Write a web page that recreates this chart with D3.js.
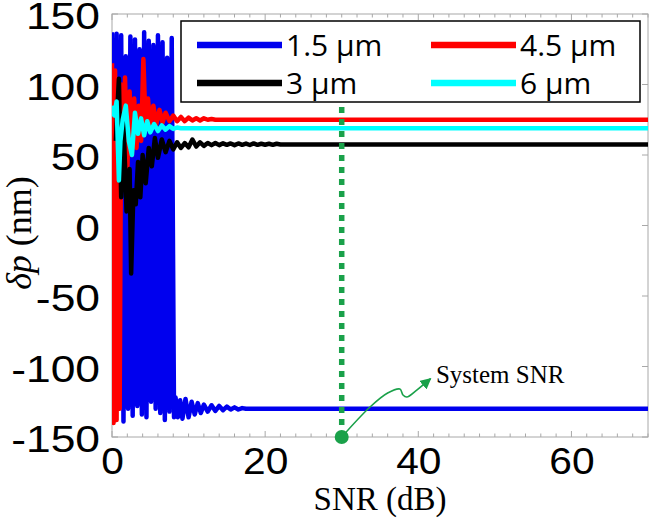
<!DOCTYPE html>
<html>
<head>
<meta charset="utf-8">
<script src="https://cdn.jsdelivr.net/npm/d3@7"></script>
<style>
  body { margin: 0; background: #fff; }
  svg { display: block; }
</style>
</head>
<body>
<svg width="650" height="520"></svg>
<script>
// 1.5 um
var snr15 = [0, 0.3, 0.6, 0.9, 1.2, 1.5, 1.8, 2.1, 2.4, 2.7, 3.0, 3.3, 3.6, 3.9, 4.2, 4.5, 4.8, 5.1, 5.4, 5.7,
    6.0, 6.3, 6.6, 6.9, 7.2, 7.5, 7.8, 8.1, 8.3, 8.6, 8.9, 9.2, 9.6, 10.0, 10.4, 10.8, 11.2, 11.6, 12.0,
    12.5, 13.0, 13.5, 14.0, 14.5, 15.0, 15.5, 16.0, 16.5, 17.0, 17.5, 70];
var dp15 = [137, -80, 136, -120, 135, -139, 120, -130, 134, -135, 132, -128, 125, -134, 137, -136, 131, -125, 128, -130,
    135, -133, 130, -138, 119, -132, 133, -136, -122, -136, -124, -137, -123, -136, -125, -134, -126, -133, -127,
    -132, -127.5, -131.5, -128, -131, -128.5, -130.5, -129, -130.5, -129.5, -130, -130];

// 3 um
var snr3 = [0.5, 0.9, 1.2, 1.5, 1.9, 2.3, 2.5, 2.8, 3.1, 3.4, 3.7, 4.0, 4.4, 4.8, 5.2, 5.6, 6.0,
    6.5, 7.0, 7.5, 8.0, 8.5, 9.0, 9.5, 10.0, 10.5, 11.0, 11.5, 12.0, 12.5, 13.0, 13.5, 14.0, 14.5, 15.0,
    15.5, 16.0, 16.5, 17.0, 17.5, 18.0, 18.5, 19.0, 19.5, 20.0, 20.5, 21.0, 21.5, 22.0, 70];
var dp3 = [60, 104, 20, 75, 10, 40, -34, 25, 15, 45, 20, 50, 30, 55, 42, 62, 48,
    61, 52, 60, 54, 59, 55, 58.5, 55.5, 61, 56, 59, 56.5, 58.5, 57, 58.5, 57, 58.3, 57.2,
    58.2, 57, 58.2, 57.2, 58.1, 57.1, 58.2, 57.2, 58, 57.3, 58, 57.2, 58, 57.5, 57.5];

// 4.5 um
var snr45 = [0, 0.2, 0.4, 0.6, 0.8, 1.0, 1.2, 1.4, 1.7, 2.0, 2.3, 2.6, 2.9, 3.2, 3.5, 3.8, 4.1, 4.4, 4.7, 5.0,
    5.4, 5.8, 6.2, 6.6, 7.0, 7.5, 8.0, 8.5, 9.0, 9.5, 10.0, 10.5, 11.0, 11.5, 12.0, 12.5, 13.0, 13.5, 70];
var dp45 = [115, -140, 110, -138, 60, -130, 100, 30, 105, 40, 95, 50, 90, 55, 85, 60, 118, 68, 90, 70,
    85, 72, 82, 73, 80, 74, 78, 74, 77, 74, 76.5, 74.5, 76, 74.5, 76, 75, 75.5, 75, 75];

// 6 um
var snr6 = [0, 0.3, 0.6, 0.9, 1.1, 1.4, 1.8, 2.2, 2.6, 3.0, 3.4, 3.8, 4.2, 4.6, 5.0, 5.5, 6.0, 6.5, 7.0, 7.5, 8.0, 8.5, 9.0, 70];
var dp6 = [85, 78, 88, 32, 60, 75, 85, 60, 50, 80, 65, 76, 64, 74, 66, 72, 67, 71, 68, 70.5, 68.5, 69.5, 69, 69];

var seriesNames = ['1.5 \u00b5m', '3 \u00b5m', '4.5 \u00b5m', '6 \u00b5m'];
var seriesColors = ['#0000ee', '#000000', '#ff0000', '#00ffff'];

var xTicks = [0, 20, 40, 60];
var yTicks = [-150, -100, -50, 0, 50, 100, 150];

// system SNR marker and the arrow to its label
var systemSnr = 30;
var arrowSnr = [30, 33.7, 36.0, 37.6, 38.0, 38.5, 39.8, 41.6];
var arrowDp = [-150, -128.7, -118.8, -116, -120.2, -121.6, -116.7, -108.6];

var svg = d3.select('svg');

var x = d3.scaleLinear().domain([0, 70]).range([112, 648]);
var y = d3.scaleLinear().domain([-150, 150]).range([437, 14]);

svg.append('defs').append('clipPath').attr('id', 'plot')
    .append('rect')
    .attr('x', x(0)).attr('y', y(150))
    .attr('width', x(70) - x(0)).attr('height', y(-150) - y(150));

svg.append('defs').append('marker')
    .attr('id', 'head')
    .attr('viewBox', '0 0 10 10')
    .attr('refX', 9).attr('refY', 5)
    .attr('markerWidth', 7).attr('markerHeight', 7)
    .attr('orient', 'auto')
    .append('path')
    .attr('d', 'M0,0 L10,5 L0,10 Z')
    .attr('fill', '#1aa14a');

// frame
svg.append('rect')
    .attr('x', x(0)).attr('y', y(150))
    .attr('width', x(70) - x(0)).attr('height', y(-150) - y(150))
    .attr('fill', 'none')
    .attr('stroke', '#a8a8a8')
    .attr('stroke-width', 1);

// minor + major ticks, inward on all sides
var minor = d3.range(0, 71, 2);
svg.selectAll('.xtb').data(minor).enter().append('line')
    .attr('x1', function (d) { return x(d); })
    .attr('x2', function (d) { return x(d); })
    .attr('y1', y(-150))
    .attr('y2', function (d) { return y(-150) - (d % 20 === 0 ? 6 : 3.5); })
    .attr('stroke', '#a8a8a8');
svg.selectAll('.xtt').data(minor).enter().append('line')
    .attr('x1', function (d) { return x(d); })
    .attr('x2', function (d) { return x(d); })
    .attr('y1', y(150))
    .attr('y2', function (d) { return y(150) + (d % 20 === 0 ? 6 : 3.5); })
    .attr('stroke', '#a8a8a8');
svg.selectAll('.ytl').data(yTicks).enter().append('line')
    .attr('x1', x(0)).attr('x2', x(0) + 6)
    .attr('y1', function (d) { return y(d); })
    .attr('y2', function (d) { return y(d); })
    .attr('stroke', '#a8a8a8');
svg.selectAll('.ytr').data(yTicks).enter().append('line')
    .attr('x1', x(70)).attr('x2', x(70) - 6)
    .attr('y1', function (d) { return y(d); })
    .attr('y2', function (d) { return y(d); })
    .attr('stroke', '#a8a8a8');

// tick labels via d3 axes (plain hyphen for negatives, like the original)
var xAxis = svg.append('g')
    .attr('transform', 'translate(0,' + y(-150) + ')')
    .call(d3.axisBottom(x).tickValues(xTicks).tickSize(0).tickPadding(11)
        .tickFormat(function (d) { return String(d); }));
var yAxis = svg.append('g')
    .attr('transform', 'translate(' + x(0) + ',0)')
    .call(d3.axisLeft(y).tickValues(yTicks).tickSize(0).tickPadding(10)
        .tickFormat(function (d) { return String(d); }));
xAxis.select('.domain').remove();
yAxis.select('.domain').remove();
svg.selectAll('.tick text')
    .attr('fill', '#000')
    .style('font-family', '"Liberation Sans", Arial, sans-serif')
    .style('font-size', '37px');
xAxis.selectAll('.tick text').attr('transform', 'scale(1.1,1)');
yAxis.selectAll('.tick text').attr('transform', 'scale(1.2,1)').attr('dy', '0.4em');

// series
var line = d3.line()
    .x(function (d) { return x(d[0]); })
    .y(function (d) { return y(d[1]); });

var allSeries = [
    { x: snr15, y: dp15, c: seriesColors[0] },
    { x: snr45, y: dp45, c: seriesColors[2] },
    { x: snr3, y: dp3, c: seriesColors[1] },
    { x: snr6, y: dp6, c: seriesColors[3] }
];

var plot = svg.append('g').attr('clip-path', 'url(#plot)');
allSeries.forEach(function (s) {
    plot.append('path')
        .datum(d3.zip(s.x, s.y))
        .attr('d', line)
        .attr('fill', 'none')
        .attr('stroke', s.c)
        .attr('stroke-width', 4.5)
        .attr('stroke-linejoin', 'round');
});

// system SNR
svg.append('line')
    .attr('x1', x(systemSnr)).attr('x2', x(systemSnr))
    .attr('y1', y(84)).attr('y2', y(-150))
    .attr('stroke', '#1aa14a')
    .attr('stroke-width', 5.5)
    .attr('stroke-dasharray', '6,6');

svg.append('path')
    .datum(d3.zip(arrowSnr, arrowDp))
    .attr('d', d3.line()
        .x(function (d) { return x(d[0]); })
        .y(function (d) { return y(d[1]); })
        .curve(d3.curveCatmullRom))
    .attr('fill', 'none')
    .attr('stroke', '#1aa14a')
    .attr('stroke-width', 1.6)
    .attr('marker-end', 'url(#head)');

svg.append('circle')
    .attr('cx', x(systemSnr)).attr('cy', y(-150))
    .attr('r', 7)
    .attr('fill', '#1aa14a');

svg.append('text')
    .attr('x', x(42.3)).attr('y', y(-111.5))
    .style('font-family', '"Liberation Serif", "Times New Roman", serif')
    .style('font-size', '25px')
    .text('System SNR');

// legend
var legend = svg.append('g');
legend.append('rect')
    .attr('x', 181).attr('y', 21)
    .attr('width', 459).attr('height', 81)
    .attr('fill', '#fff')
    .attr('stroke', '#000')
    .attr('stroke-width', 1.5);

var items = legend.selectAll('.legend')
    .data(seriesNames)
    .enter().append('g')
    .attr('class', 'legend')
    .attr('transform', function (d, i) {
        return 'translate(' + (i < 2 ? 197 : 431) + ',' + (i % 2 === 0 ? 45 : 83) + ')';
    });
items.append('line')
    .attr('x1', 0).attr('x2', 85)
    .attr('stroke', function (d, i) { return seriesColors[i]; })
    .attr('stroke-width', 6.5);
items.append('text')
    .attr('x', 89)
    .attr('dy', '0.35em')
    .style('font-family', '"Open Sans", "Noto Sans", sans-serif')
    .style('font-size', '30px')
    .text(function (d) { return d; });

// axis titles
svg.append('text')
    .attr('x', 380).attr('y', 510)
    .attr('text-anchor', 'middle')
    .style('font-family', '"Liberation Serif", "Times New Roman", serif')
    .style('font-size', '33px')
    .text('SNR (dB)');

var yt = svg.append('text')
    .attr('transform', 'translate(31,233) rotate(-90)')
    .attr('text-anchor', 'middle')
    .style('font-family', '"Liberation Serif", "Times New Roman", serif')
    .style('font-size', '36px');
yt.append('tspan').style('font-style', 'italic').text('\u03b4p');
yt.append('tspan').text(' (nm)');
</script>
</body>
</html>
